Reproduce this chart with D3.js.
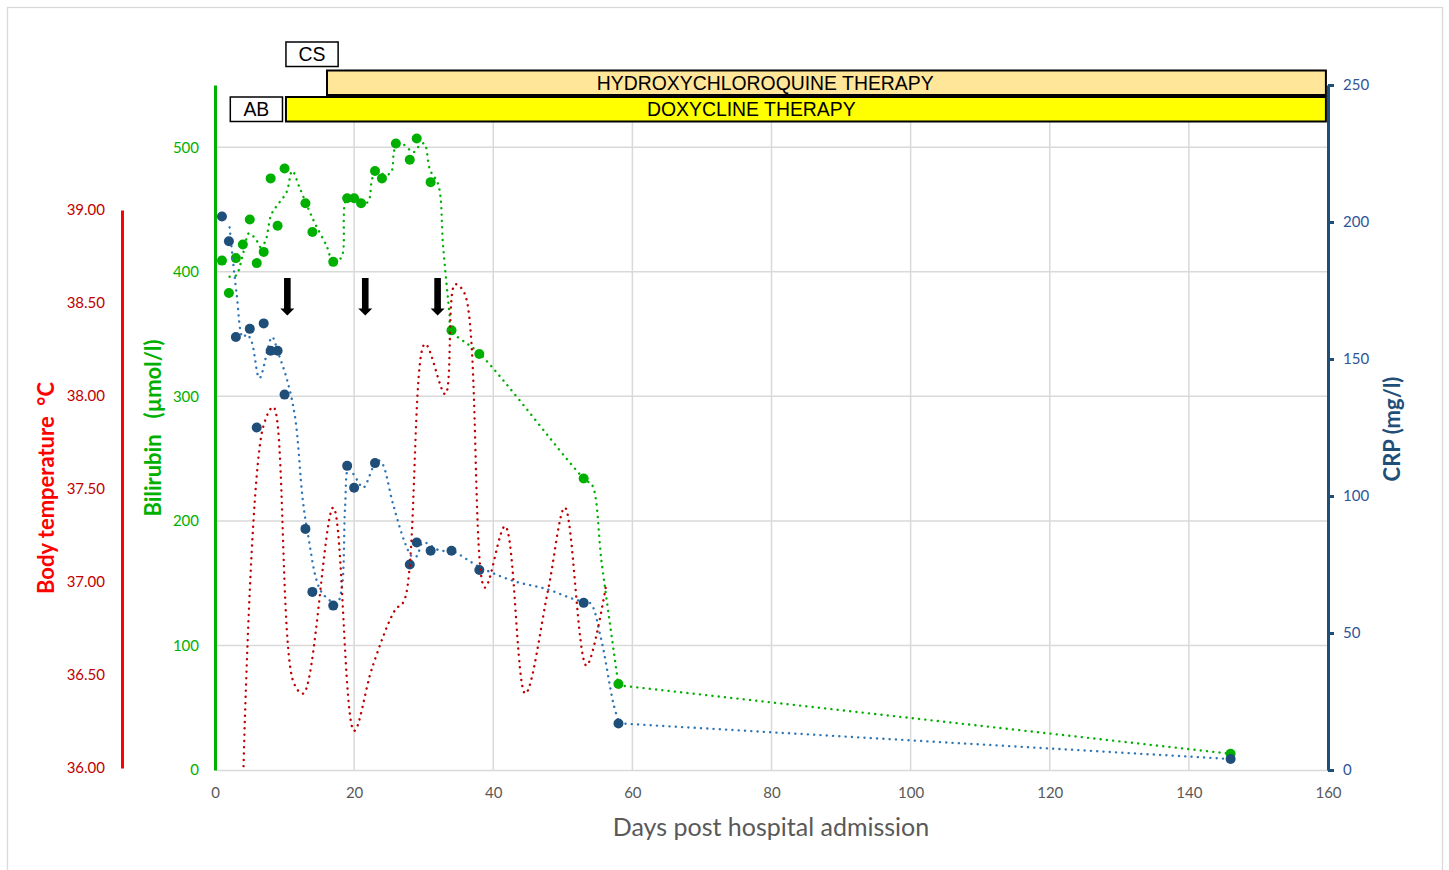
<!DOCTYPE html>
<html>
<head>
<meta charset="utf-8">
<script src="https://cdn.jsdelivr.net/npm/d3@7/dist/d3.min.js"></script>
<style>
	body{margin:0;background:#fff;}
	text{font-family:Lato, "Noto Sans", sans-serif;}
	.box text{font-family:"Liberation Sans", Arial, sans-serif;}
	.title{white-space:pre;font-weight:bold;font-size:22px;}
</style>
</head>
<body>
<svg id="chart" width="1449" height="870"></svg>
<script>
// ticks
var xTicks = [0, 20, 40, 60, 80, 100, 120, 140, 160];
var bilirubinTicks = [0, 100, 200, 300, 400, 500];
var crpTicks = [0, 50, 100, 150, 200, 250];
var temperatureTicks = [36, 36.5, 37, 37.5, 38, 38.5, 39];

// bilirubin (umol/l): measured points and the dotted line
var bilirubinPoints = [
	[1, 409], [2, 383], [3, 411], [4, 422], [5, 442], [6, 407], [7, 416], [8, 475], [9, 437], [10, 483],
	[13, 455], [14, 432], [17, 408], [19, 459], [20, 459], [21, 455], [23, 481], [24, 475], [26, 503],
	[28, 490], [29, 507], [31, 472], [34, 353], [38, 334], [53, 234], [58, 69], [146, 13]
];
var bilirubinLine = [
	[2.1, 396], [3.0, 397], [4.1, 416], [4.9, 431], [6.0, 425], [6.5, 420], [7.2, 424], [8.1, 446],
	[9.3, 456], [10.3, 464], [11.1, 481], [12.2, 467], [14.1, 442], [16.1, 420], [17.0, 407], [18.2, 412],
	[18.9, 458], [20.1, 459], [21.1, 456], [22.0, 456], [22.9, 478], [25.2, 479], [25.9, 499], [27.1, 502],
	[28.5, 496], [29.5, 502], [30.1, 503], [30.9, 482], [32.1, 470], [32.8, 420], [33.7, 367], [34.0, 353],
	[38.1, 334], [53.2, 233], [54.2, 229], [55.6, 166], [58.0, 68], [146, 13]
];

// CRP (mg/l)
var crpPoints = [
	[1, 202], [2, 193], [3, 158], [5, 161], [6, 125], [7, 163], [8, 153], [9, 153], [10, 137],
	[13, 88], [14, 65], [17, 60], [19, 111], [20, 103], [23, 112], [28, 75], [29, 83], [31, 80],
	[34, 80], [38, 73], [53, 61], [58, 17], [146, 4]
];
var crpLine = [
	[2.1, 198], [3.1, 174], [4.0, 158], [4.6, 159], [5.3, 156], [6.4, 143], [8.2, 158], [9.1, 152],
	[10.3, 143], [11.5, 129], [12.6, 99], [13.3, 87], [15.3, 65], [17.5, 61], [18.2, 66], [18.7, 96],
	[19.2, 110], [20.4, 106], [21.3, 103], [23.3, 113], [24.0, 112], [25.6, 97], [27.3, 83], [28.3, 78],
	[29.0, 78], [29.9, 83], [32.4, 80], [34.0, 80], [38.1, 74], [42.9, 69], [47.7, 66], [52.0, 62],
	[53.9, 61], [55.4, 49], [57.3, 24], [58.1, 17], [146, 4]
];

// body temperature (deg C), line only
var temperatureLine = [
	[4.1, 36.01], [6.9, 37.83], [8.4, 37.94], [11.3, 36.46], [12.7, 36.40], [17.0, 37.40], [20.0, 36.20],
	[22.6, 36.54], [25.9, 36.85], [27.2, 36.90], [30.2, 38.28], [33.1, 38.01], [34.5, 38.60], [35.9, 38.55],
	[38.8, 36.97], [41.7, 37.30], [44.6, 36.40], [47.9, 36.96], [50.3, 37.40], [53.4, 36.55], [56.3, 37.00]
];

// therapy boxes (days) and arrows
var therapyLabels = ["CS", "HYDROXYCHLOROQUINE THERAPY", "AB", "DOXYCLINE THERAPY"];
var therapyStart = [10.2, 16.1, 2.2, 10.2];
var therapyEnd = [17.7, 159.7, 9.7, 159.7];
var therapyTextDay = [13.95, 79.1, 5.95, 77.1];
var therapyRow = [0, 1, 2, 2];
var arrowDays = [10.4, 21.6, 32.0];

var svg = d3.select("#chart");
var x = d3.scaleLinear().domain([0, 160]).range([215, 1328]);
var yBil = d3.scaleLinear().domain([0, 550]).range([770, 85]);
var yCrp = d3.scaleLinear().domain([0, 250]).range([770, 85]);
var yTemp = d3.scaleLinear().domain([36, 39]).range([768, 210]);

var green = "#00b000", navy = "#1f4e79", blue = "#2e75b6", red = "#c00000";

// outer frame
svg.append("rect")
	.attr("x", 7.5).attr("y", 7.5).attr("width", 1435).attr("height", 880)
	.attr("fill", "none").attr("stroke", "#d9d9d9").attr("stroke-width", 1.3);

// grid
svg.append("g").selectAll("line")
	.data(bilirubinTicks.filter(function(d){ return d > 0; }))
	.enter().append("line")
	.attr("x1", x(0)).attr("x2", x(160))
	.attr("y1", function(d){ return yBil(d); }).attr("y2", function(d){ return yBil(d); })
	.attr("stroke", "#d9d9d9").attr("stroke-width", 1.5);
svg.append("g").selectAll("line")
	.data(xTicks.filter(function(d){ return d > 0 && d < 160; }))
	.enter().append("line")
	.attr("x1", function(d){ return x(d); }).attr("x2", function(d){ return x(d); })
	.attr("y1", yBil(550)).attr("y2", yBil(0))
	.attr("stroke", "#d9d9d9").attr("stroke-width", 1.5);

// x axis
var xAxis = svg.append("g").attr("transform", "translate(0," + yBil(0) + ")")
	.call(d3.axisBottom(x).tickValues(xTicks).tickSize(0).tickPadding(17));
xAxis.select(".domain").attr("stroke", "#d9d9d9").attr("stroke-width", 1.5);
xAxis.selectAll("text").attr("fill", "#595959").style("font-size", "15px");
svg.append("text")
	.attr("x", 771).attr("y", 836).attr("text-anchor", "middle")
	.attr("fill", "#595959").style("font-size", "25px")
	.text("Days post hospital admission");

// temperature axis
var tAxis = svg.append("g").attr("transform", "translate(122,0)")
	.call(d3.axisLeft(yTemp).tickValues(temperatureTicks).tickFormat(d3.format(".2f")).tickSize(0).tickSizeOuter(0).tickPadding(17));
tAxis.select(".domain").attr("stroke", "#ff0000").attr("stroke-width", 3);
tAxis.selectAll("text").attr("fill", red).style("font-size", "15px");
svg.append("text").attr("class", "title")
	.attr("transform", "translate(54,488) rotate(-90)").attr("text-anchor", "middle")
	.attr("fill", "#ff0000")
	.text("Body temperature  \u00b0C");

// bilirubin axis
var bAxis = svg.append("g").attr("transform", "translate(215,0)")
	.call(d3.axisLeft(yBil).tickValues(bilirubinTicks).tickSize(0).tickSizeOuter(0).tickPadding(16));
bAxis.select(".domain").attr("stroke", green).attr("stroke-width", 3);
bAxis.selectAll("text").attr("fill", green).style("font-size", "15px");
svg.append("text").attr("class", "title")
	.attr("transform", "translate(161,428) rotate(-90)").attr("text-anchor", "middle")
	.attr("fill", green)
	.text("Bilirubin   (\u00b5mol/l)");

// CRP axis
var cAxis = svg.append("g").attr("transform", "translate(1328,0)")
	.call(d3.axisRight(yCrp).tickValues(crpTicks).tickSize(6).tickSizeOuter(0).tickPadding(9));
cAxis.select(".domain").attr("stroke", navy).attr("stroke-width", 3);
cAxis.selectAll("line").attr("stroke", navy).attr("stroke-width", 3);
cAxis.selectAll("text").attr("fill", "#2f5597").style("font-size", "15px");
svg.append("text").attr("class", "title")
	.attr("transform", "translate(1400,429) rotate(-90)").attr("text-anchor", "middle")
	.attr("fill", navy)
	.text("CRP (mg/l)");

// dotted curves; a long last gap is drawn straight
function dotted(data, yScale, colour, straightTail){
	var curved = d3.line()
		.x(function(d){ return x(d[0]); })
		.y(function(d){ return yScale(d[1]); })
		.curve(d3.curveCatmullRom.alpha(0.5));
	var straight = d3.line()
		.x(function(d){ return x(d[0]); })
		.y(function(d){ return yScale(d[1]); });
	var parts = straightTail ? [[data.slice(0, -1), curved], [data.slice(-2), straight]] : [[data, curved]];
	parts.forEach(function(p){
		svg.append("path").datum(p[0])
			.attr("d", p[1])
			.attr("fill", "none").attr("stroke", colour).attr("stroke-width", 2.4)
			.attr("stroke-linecap", "round").attr("stroke-dasharray", "0.1 6.2");
	});
}
function markers(data, yScale, colour){
	svg.append("g").selectAll("circle")
		.data(data).enter().append("circle")
		.attr("cx", function(d){ return x(d[0]); })
		.attr("cy", function(d){ return yScale(d[1]); })
		.attr("r", 5).attr("fill", colour);
}
dotted(bilirubinLine, yBil, green, true);
markers(bilirubinPoints, yBil, green);
dotted(crpLine, yCrp, blue, true);
markers(crpPoints, yCrp, navy);
dotted(temperatureLine, yTemp, red, false);

// arrows
svg.append("g").selectAll("path")
	.data(arrowDays).enter().append("path")
	.attr("d", function(d){
		var cx = x(d), top = yBil(395), tip = yBil(365), neck = tip - 7;
		return "M" + (cx - 3.3) + "," + top + "H" + (cx + 3.3) + "V" + neck + "H" + (cx + 7) +
			"L" + cx + "," + tip + "L" + (cx - 7) + "," + neck + "H" + (cx - 3.3) + "Z";
	})
	.attr("fill", "#000");

// therapy boxes
var rowTop = [42, 70.5, 97];
var box = svg.append("g").attr("class", "box").selectAll("g")
	.data(therapyLabels).enter().append("g");
box.append("rect")
	.attr("x", function(d, i){ return x(therapyStart[i]); })
	.attr("y", function(d, i){ return rowTop[therapyRow[i]]; })
	.attr("width", function(d, i){ return x(therapyEnd[i]) - x(therapyStart[i]); })
	.attr("height", 24.5)
	.attr("fill", function(d){
		if(d.indexOf("HYDROXY") === 0) return "#ffe699";
		if(d.indexOf("DOXY") === 0) return "#ffff00";
		return "#fff";
	})
	.attr("stroke", "#000")
	.attr("stroke-width", function(d){ return d.length > 2 ? 2 : 1.5; });
box.append("text")
	.attr("x", function(d, i){ return x(therapyTextDay[i]); })
	.attr("y", function(d, i){ return rowTop[therapyRow[i]] + 12.5; })
	.attr("dy", "0.36em").attr("text-anchor", "middle")
	.style("font-size", "19.4px").attr("fill", "#000")
	.text(function(d){ return d; });
</script>
</body>
</html>
